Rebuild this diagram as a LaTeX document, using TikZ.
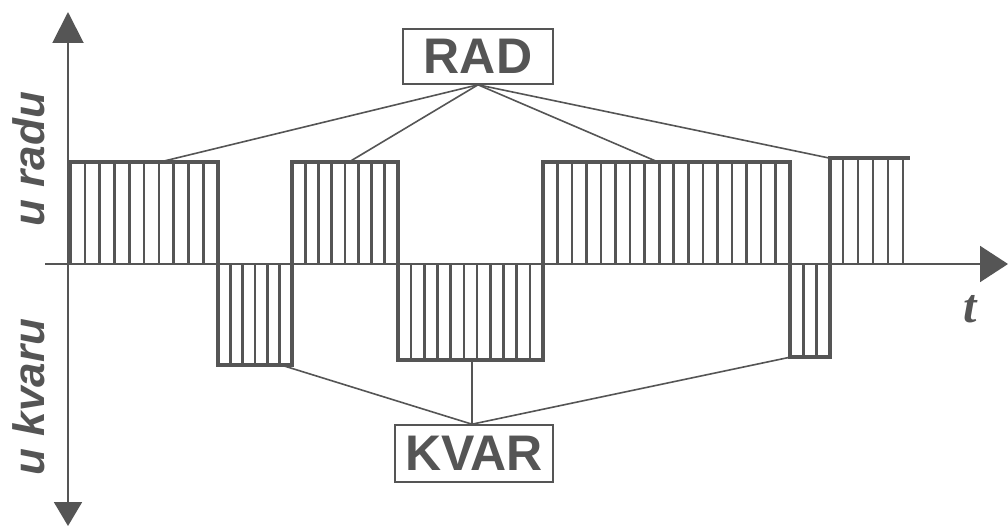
\documentclass[tikz,border=0pt]{standalone}
\usepackage{fontspec}
\setmainfont{Liberation Sans}
\newfontfamily\serifit{Liberation Serif}
\usetikzlibrary{arrows.meta}
\definecolor{ink}{HTML}{555555}
\begin{document}
\begin{tikzpicture}[x=1pt,y=-1pt,
  axis/.style={draw=ink,line width=2pt},
  wave/.style={draw=ink,line width=3.6pt,line join=miter},
  hatch/.style={draw=ink,line width=2.6pt},
  conn/.style={draw=ink,line width=1.6pt},
  labelbox/.style={draw=ink,line width=1.6pt,inner sep=0pt,text=ink,font=\fontsize{50}{56}\selectfont\bfseries},
  axlabel/.style={text=ink,font=\fontsize{44}{50}\selectfont\bfseries\itshape,inner sep=0pt}]
\useasboundingbox (0,0) rectangle (1008,527);
\fill[white] (0,0) rectangle (1008,527);
% axes
\draw[axis,-{Triangle[width=31pt,length=31pt]}] (68,264) -- (68,12);
\draw[axis,-{Triangle[width=28pt,length=24pt]}] (68,264) -- (68,526);
\draw[axis,-{Triangle[width=36pt,length=28pt]}] (45,264) -- (1008,264);
% hatches
\foreach \i in {1,...,9} \draw[hatch] ({70+\i*14.8},264) -- ({70+\i*14.8},162);
\foreach \i in {1,...,5} \draw[hatch] ({218+\i*74/6},264) -- ({218+\i*74/6},365);
\foreach \i in {1,...,7} \draw[hatch] ({292+\i*106/8},264) -- ({292+\i*106/8},162);
\foreach \i in {1,...,10} \draw[hatch] ({398+\i*145/11},264) -- ({398+\i*145/11},360);
\foreach \i in {1,...,16} \draw[hatch] ({543+\i*247/17},264) -- ({543+\i*247/17},162);
\foreach \i in {1,2} \draw[hatch] ({790+\i*40/3},264) -- ({790+\i*40/3},357);
\foreach \i in {1,...,5} \draw[hatch] ({828+\i*15},264) -- ({828+\i*15},158);
% waveform
\draw[wave] (70,264) -- (70,162) -- (218,162) -- (218,365) -- (292,365) -- (292,162)
  -- (398,162) -- (398,360) -- (543,360) -- (543,162) -- (790,162) -- (790,357)
  -- (830,357) -- (830,158) -- (910,158);
% anchor points on waveform
\coordinate (r1) at (160,162);
\coordinate (r2) at (349,162);
\coordinate (r3) at (658,162);
\coordinate (r4) at (829,158);
\coordinate (k1) at (281,365);
\coordinate (k2) at (472,360);
\coordinate (k3) at (791,357);
% label boxes
\node[labelbox,minimum width=150pt,minimum height=55pt] (rad) at (478,56.5) {RAD};
\node[labelbox,minimum width=158pt,minimum height=57pt] (kvar) at (474,453.5) {KVAR};
% connectors
\foreach \c in {r1,r2,r3,r4} \draw[conn] (rad.south) -- (\c);
\foreach \c in {k1,k3} \draw[conn] ([xshift=-2pt]kvar.north) -- (\c);
\draw[conn] (k2) -- (k2 |- kvar.north);
% axis labels
\node[axlabel,rotate=90,anchor=base] (ur) at (44,159) {u radu};
\node[axlabel,rotate=90,anchor=base] (uk) at (44,397) {u kvaru};
\node[text=ink,inner sep=0pt,anchor=base,font=\fontsize{48}{50}\selectfont\serifit\bfseries\itshape] (t) at (970,322) {t};
\end{tikzpicture}
\end{document}
